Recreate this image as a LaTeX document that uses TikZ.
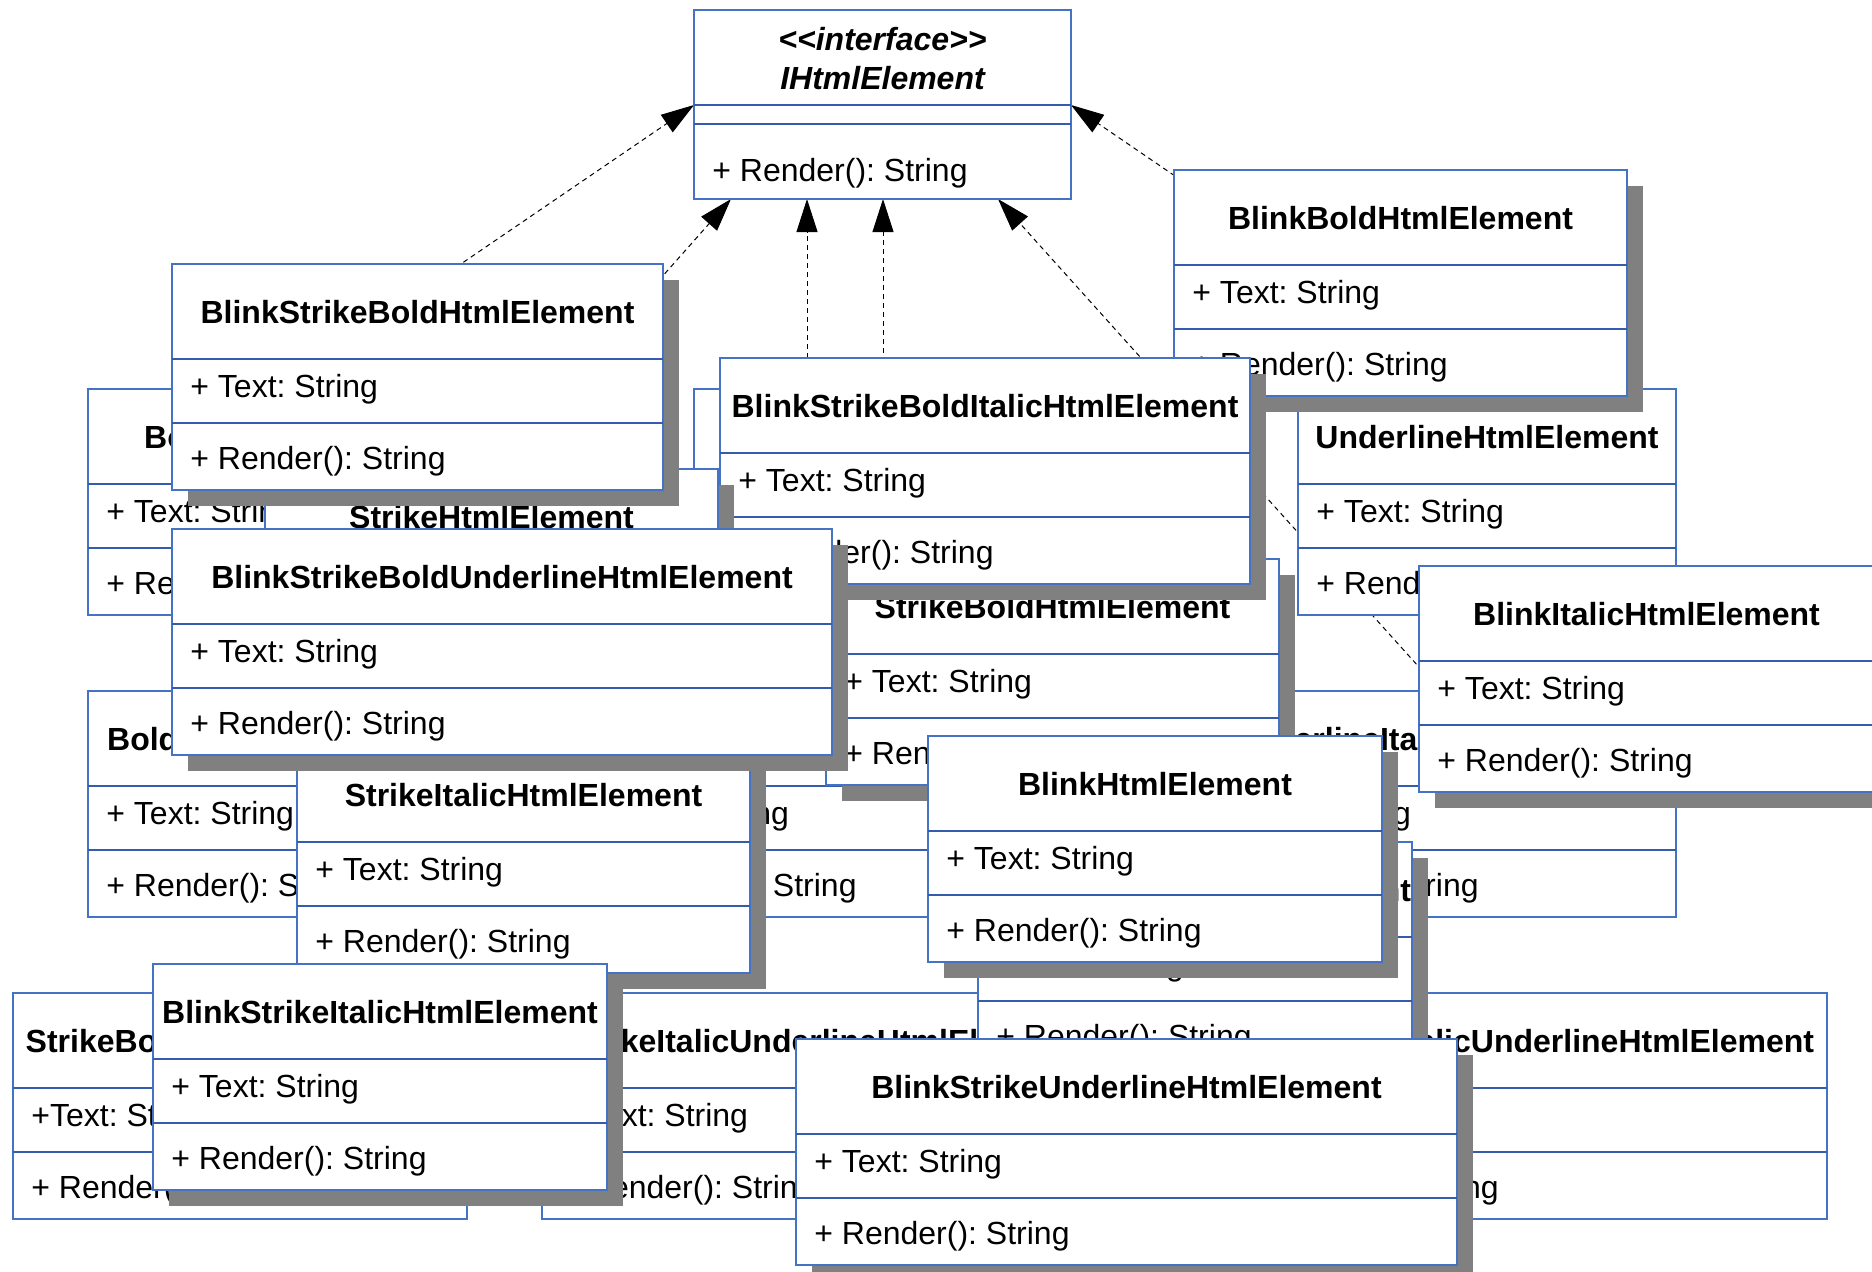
\documentclass[tikz,border=0pt]{standalone}
\usepackage{fontspec}
\setmainfont{Liberation Sans}
\usetikzlibrary{calc,shadows,arrows.meta}

\definecolor{boxblue}{RGB}{68,114,196}
\definecolor{sepblue}{RGB}{52,92,170}
\definecolor{shadowgray}{RGB}{128,128,128}

\pgfdeclarelayer{paper}
\pgfdeclarelayer{links}
\pgfsetlayers{paper,links,main}

\newcommand{\diagfont}{\fontsize{16}{19}\selectfont\frenchspacing}

\tikzset{
  classframe/.style={draw=boxblue, line width=0.75pt, fill=white, inner sep=0pt,
    outer sep=0pt, anchor=north west, minimum height=113pt},
  shadebox/.style={drop shadow={shadow xshift=7.75pt, shadow yshift=-7.75pt,
    opacity=1, fill=shadowgray}},
  flatbox/.style={},
  sepline/.style={draw=sepblue, line width=0.75pt},
  titletext/.style={anchor=base, inner sep=0pt, font=\diagfont\bfseries},
  ifacetext/.style={anchor=base, inner sep=0pt, font=\diagfont\bfseries\itshape},
  membertext/.style={anchor=base west, inner sep=0pt, font=\diagfont},
  realizes/.style={draw=black, line width=0.5pt, dash pattern=on 2.5pt off 2pt,
    -{Triangle[length=16.5pt,width=10.5pt,fill=black]}},
}

% class box: style, name, left, top, width (px), title, attribute, operation
\newcommand{\umlclass}[8]{%
  \node[classframe, #1, minimum width=#5*0.5pt] (#2) at (#3,#4) {};
  \draw[sepline] ($(#2.north west)+(0,95)$) -- ($(#2.north east)+(0,95)$);
  \draw[sepline] ($(#2.north west)+(0,159)$) -- ($(#2.north east)+(0,159)$);
  \node[titletext] (#2-t) at ($(#2.north)+(0,59)$) {#6};
  \node[membertext] (#2-a) at ($(#2.north west)+(18,133.5)$) {#7};
  \node[membertext] (#2-m) at ($(#2.north west)+(18,205)$) {#8};
}

\begin{document}
\begin{tikzpicture}[x=0.5pt, y=-0.5pt]
\useasboundingbox (0,0) rectangle (1872,1271);
\clip (0,0) rectangle (1872,1271);
\begin{pgfonlayer}{paper}
  \fill[white] (0,0) rectangle (1872,1271);
\end{pgfonlayer}

% the interface
\node[classframe, minimum width=377*0.5pt, minimum height=189*0.5pt] (iface) at (694,10) {};
\draw[sepline] ($(iface.north west)+(0,95)$) -- ($(iface.north east)+(0,95)$);
\draw[sepline] ($(iface.north west)+(0,114)$) -- ($(iface.north east)+(0,114)$);
\node[ifacetext] (iface-s) at ($(iface.north)+(0,40.5)$) {<\kern0pt<interface>\kern0pt>};
\node[ifacetext] (iface-t) at ($(iface.north)+(0,79)$) {IHtmlElement};
\node[membertext] (iface-m) at ($(iface.north west)+(18,171)$) {+ Render(): String};

% rear row of plain classes
\umlclass{flatbox}{E}{88}{389}{379}{BoldHtmlElement}{+ Text: String}{+ Render(): String}
\umlclass{flatbox}{G}{694}{389}{378}{ItalicHtmlElement}{+ Text: String}{+ Render(): String}
\umlclass{flatbox}{U}{1298}{389}{378}{UnderlineHtmlElement}{+ Text: String}{+ Render(): String}
\umlclass{flatbox}{P}{88}{691}{378}{BoldItalicHtmlElement}{+ Text: String}{+ Render(): String}
\umlclass{flatbox}{Q}{583}{691}{448}{BoldUnderlineHtmlElement}{+ Text: String}{+ Render(): String}
\umlclass{flatbox}{R}{1205}{691}{471}{UnderlineItalicHtmlElement}{+ Text: String}{+ Render(): String}
\umlclass{flatbox}{T}{13}{993}{454}{StrikeBoldItalicHtmlElement}{+Text: String}{+ Render(): String}
\umlclass{flatbox}{V}{542}{993}{556}{StrikeItalicUnderlineHtmlElement}{+ Text: String}{+ Render(): String}
\umlclass{flatbox}{W}{1225}{993}{602}{StrikeBoldItalicUnderlineHtmlElement}{+ Text: String}{+ Render(): String}

% classes with drop shadows, back to front
\umlclass{shadebox}{O}{978}{842}{434}{StrikeUnderlineHtmlElement}{+ Text: String}{+ Render(): String}
\umlclass{shadebox}{H}{826}{559}{453}{StrikeBoldHtmlElement}{+ Text: String}{+ Render(): String}
\umlclass{shadebox}{L}{928}{736}{454}{BlinkHtmlElement}{+ Text: String}{+ Render(): String}
\umlclass{shadebox}{K}{297}{747}{453}{StrikeItalicHtmlElement}{+ Text: String}{+ Render(): String}
\umlclass{shadebox}{B}{1174}{170}{453}{BlinkBoldHtmlElement}{+ Text: String}{+ Render(): String}
\umlclass{shadebox}{D}{720}{358}{530}{BlinkStrikeBoldItalicHtmlElement}{+ Text: String}{+ Render(): String}
\umlclass{shadebox}{F}{265}{469}{453}{StrikeHtmlElement}{+ Text: String}{+ Render(): String}
\umlclass{shadebox}{C}{172}{264}{491}{BlinkStrikeBoldHtmlElement}{+ Text: String}{+ Render(): String}
\umlclass{shadebox}{I}{172}{529}{660}{BlinkStrikeBoldUnderlineHtmlElement}{+ Text: String}{+ Render(): String}
\umlclass{shadebox}{M}{153}{964}{454}{BlinkStrikeItalicHtmlElement}{+ Text: String}{+ Render(): String}
\umlclass{shadebox}{J}{1419}{566}{455}{BlinkItalicHtmlElement}{+ Text: String}{+ Render(): String}
\umlclass{shadebox}{N}{796}{1039}{661}{BlinkStrikeUnderlineHtmlElement}{+ Text: String}{+ Render(): String}

% realisation links, kept underneath every class box
\begin{pgfonlayer}{links}
  \draw[realizes] (E.north) -- ($(iface.north west)+(0,95)$);
  \draw[realizes] (U.north) -- ($(iface.north east)+(0,95)$);
  \draw[realizes] (F.north) -- ($(iface.south west)+(37,0)$);
  \draw[realizes] (Q.north) -- (Q.north |- iface.south);
  \draw[realizes] (G.north) -- (G.north |- iface.south);
  \draw[realizes] (R.north) -- ($(iface.south west)+(304,0)$);
\end{pgfonlayer}
\end{tikzpicture}
\end{document}
